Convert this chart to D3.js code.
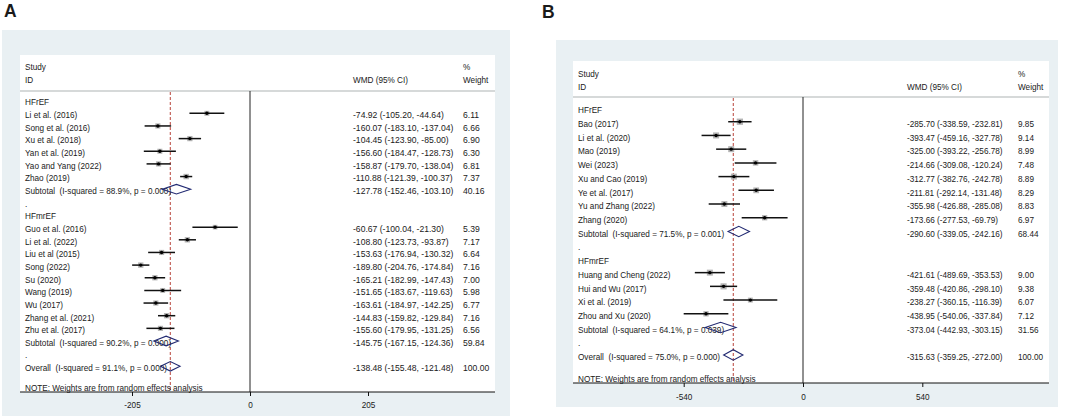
<!DOCTYPE html>
<html>
<head>
<meta charset="utf-8">
<script src="https://cdn.jsdelivr.net/npm/d3@7"></script>
<style>
  body { margin: 0; background: #fff; }
  svg { display: block; font-family: "Liberation Sans", Arial, Helvetica, sans-serif; }
  text { white-space: pre; fill: #1a1a1a; }
</style>
</head>
<body>
<div id="chart"></div>
<script>
// ---- panel A data (WMD, random effects) ----
const A_LABELS = ["HFrEF", "Li et al. (2016)", "Song et al. (2016)", "Xu et al. (2018)", "Yan et al. (2019)",
  "Yao and Yang (2022)", "Zhao (2019)", "Subtotal  (I-squared = 88.9%, p = 0.000)", ".",
  "HFmrEF", "Guo et al. (2016)", "Li et al. (2022)", "Liu et al (2015)", "Song (2022)", "Su (2020)",
  "Wang (2019)", "Wu (2017)", "Zhang et al. (2021)", "Zhu et al. (2017)",
  "Subtotal  (I-squared = 90.2%, p = 0.000)", ".", "Overall  (I-squared = 91.1%, p = 0.000)"];
const A_KIND = ["head", "study", "study", "study", "study", "study", "study", "sub", "blank",
  "head", "study", "study", "study", "study", "study", "study", "study", "study", "study", "sub", "blank", "sub"];
const A_EST = [null, -74.92, -160.07, -104.45, -156.60, -158.87, -110.88, -127.78, null,
  null, -60.67, -108.80, -153.63, -189.80, -165.21, -151.65, -163.61, -144.83, -155.60, -145.75, null, -138.48];
const A_LO = [null, -105.20, -183.10, -123.90, -184.47, -179.70, -121.39, -152.46, null,
  null, -100.04, -123.73, -176.94, -204.76, -182.99, -183.67, -184.97, -159.82, -179.95, -167.15, null, -155.48];
const A_HI = [null, -44.64, -137.04, -85.00, -128.73, -138.04, -100.37, -103.10, null,
  null, -21.30, -93.87, -130.32, -174.84, -147.43, -119.63, -142.25, -129.84, -131.25, -124.36, null, -121.48];
const A_WT = [null, 6.11, 6.66, 6.90, 6.30, 6.81, 7.37, 40.16, null,
  null, 5.39, 7.17, 6.64, 7.16, 7.00, 5.98, 6.77, 7.16, 6.56, 59.84, null, 100.00];
const A_TICKS = [-205, 0, 205];

// ---- panel B data ----
const B_LABELS = ["HFrEF", "Bao (2017)", "Li et al. (2020)", "Mao (2019)", "Wei (2023)", "Xu and Cao (2019)",
  "Ye et al. (2017)", "Yu and Zhang (2022)", "Zhang (2020)", "Subtotal  (I-squared = 71.5%, p = 0.001)", ".",
  "HFmrEF", "Huang and Cheng (2022)", "Hui and Wu (2017)", "Xi et al. (2019)", "Zhou and Xu (2020)",
  "Subtotal  (I-squared = 64.1%, p = 0.039)", ".", "Overall  (I-squared = 75.0%, p = 0.000)"];
const B_KIND = ["head", "study", "study", "study", "study", "study", "study", "study", "study", "sub", "blank",
  "head", "study", "study", "study", "study", "sub", "blank", "sub"];
const B_EST = [null, -285.70, -393.47, -325.00, -214.66, -312.77, -211.81, -355.98, -173.66, -290.60, null,
  null, -421.61, -359.48, -238.27, -438.95, -373.04, null, -315.63];
const B_LO = [null, -338.59, -459.16, -393.22, -309.08, -382.76, -292.14, -426.88, -277.53, -339.05, null,
  null, -489.69, -420.86, -360.15, -540.06, -442.93, null, -359.25];
const B_HI = [null, -232.81, -327.78, -256.78, -120.24, -242.78, -131.48, -285.08, -69.79, -242.16, null,
  null, -353.53, -298.10, -116.39, -337.84, -303.15, null, -272.00];
const B_WT = [null, 9.85, 9.14, 8.99, 7.48, 8.89, 8.29, 8.83, 6.97, 68.44, null,
  null, 9.00, 9.38, 6.07, 7.12, 31.56, null, 100.00];
const B_TICKS = [-540, 0, 540];

const NOTE = "NOTE: Weights are from random effects analysis";

const W = 1065, H = 418;
const svg = d3.select("#chart").append("svg").attr("width", W).attr("height", H);

const fmt = (v) => v.toFixed(2);

function drawPanel(p) {
  const g = svg.append("g");

  // outer light background and white plot region
  g.append("rect").attr("x", p.bg[0]).attr("y", p.bg[1])
    .attr("width", p.bg[2] - p.bg[0]).attr("height", p.bg[3] - p.bg[1]).attr("fill", "#e9f0f3");
  g.append("rect").attr("x", p.pl[0]).attr("y", p.pl[1])
    .attr("width", p.pl[2] - p.pl[0]).attr("height", p.pl[3] - p.pl[1]).attr("fill", "#fff");

  // panel letter
  svg.append("text").attr("x", p.letterX).attr("y", p.letterY)
    .attr("font-size", 17.5).attr("font-weight", "bold").text(p.letter);

  const x = d3.scaleLinear().domain([p.ticks[0], p.ticks[2]])
              .range([p.zero - p.span, p.zero + p.span]);
  const yRow = (i) => p.y0 + p.step * i;

  // header
  g.append("text").attr("x", p.labX).attr("y", p.hy1).attr("font-size", p.fs).text("Study");
  g.append("text").attr("x", p.labX).attr("y", p.hy2).attr("font-size", p.fs).text("ID");
  g.append("text").attr("x", p.wmdX).attr("y", p.hy2).attr("font-size", p.fs).text("WMD (95% CI)");
  g.append("text").attr("x", p.wtX).attr("y", p.hy1).attr("font-size", p.fs).text("%");
  g.append("text").attr("x", p.wtX).attr("y", p.hy2).attr("font-size", p.fs).text("Weight");
  g.append("line").attr("x1", p.pl[0]).attr("x2", p.pl[2]).attr("y1", p.hl).attr("y2", p.hl)
    .attr("stroke", "#c9cccd").attr("stroke-width", 1.5);

  // zero line
  g.append("line").attr("x1", x(0)).attr("x2", x(0)).attr("y1", p.hl).attr("y2", p.pl[3])
    .attr("stroke", "#222").attr("stroke-width", 1);

  // overall effect dashed line
  const overall = p.est[p.est.length - 1];
  g.append("line").attr("x1", x(overall)).attr("x2", x(overall)).attr("y1", p.hl + 1).attr("y2", p.pl[3])
    .attr("stroke", "#b8433a").attr("stroke-width", 1).attr("stroke-dasharray", "3,2");

  const rows = p.labels.map((lab, i) => ({
    lab: lab, kind: p.kind[i], est: p.est[i], lo: p.lo[i], hi: p.hi[i], wt: p.wt[i], i: i
  }));

  // row labels
  g.selectAll(".lab").data(rows).enter().append("text")
    .attr("class", "lab")
    .attr("x", p.labX)
    .attr("y", (d) => yRow(d.i) + p.tOff)
    .attr("font-size", p.fs)
    .text((d) => d.lab);

  const valued = rows.filter((d) => d.est !== null);

  // estimate text + weight
  g.selectAll(".wmd").data(valued).enter().append("text")
    .attr("class", "wmd")
    .attr("x", p.wmdX)
    .attr("y", (d) => yRow(d.i) + p.tOff)
    .attr("font-size", p.fsNum)
    .text((d) => fmt(d.est) + " (" + fmt(d.lo) + ", " + fmt(d.hi) + ")");
  g.selectAll(".wt").data(valued).enter().append("text")
    .attr("class", "wt")
    .attr("x", p.wtX)
    .attr("y", (d) => yRow(d.i) + p.tOff)
    .attr("font-size", p.fsNum)
    .text((d) => fmt(d.wt));

  const studies = rows.filter((d) => d.kind === "study");

  // weight boxes
  g.selectAll(".box").data(studies).enter().append("rect")
    .attr("class", "box")
    .attr("x", (d) => x(d.est) - p.boxK * Math.sqrt(d.wt) / 2)
    .attr("y", (d) => yRow(d.i) - p.boxK * Math.sqrt(d.wt) / 2)
    .attr("width", (d) => p.boxK * Math.sqrt(d.wt))
    .attr("height", (d) => p.boxK * Math.sqrt(d.wt))
    .attr("fill", "#b4b4b4");

  // CI lines
  g.selectAll(".ci").data(studies).enter().append("line")
    .attr("class", "ci")
    .attr("x1", (d) => x(d.lo)).attr("x2", (d) => x(d.hi))
    .attr("y1", (d) => yRow(d.i)).attr("y2", (d) => yRow(d.i))
    .attr("stroke", "#111").attr("stroke-width", 1.5);

  // point estimates
  g.selectAll(".pt").data(studies).enter().append("circle")
    .attr("class", "pt")
    .attr("cx", (d) => x(d.est)).attr("cy", (d) => yRow(d.i))
    .attr("r", 1.7).attr("fill", "#000");

  // pooled diamonds
  const pooled = rows.filter((d) => d.kind === "sub");
  g.selectAll(".dia").data(pooled).enter().append("path")
    .attr("class", "dia")
    .attr("d", (d) => {
      const yc = yRow(d.i), h = p.step * 0.38;
      return "M" + x(d.lo) + "," + yc + "L" + x(d.est) + "," + (yc - h) +
             "L" + x(d.hi) + "," + yc + "L" + x(d.est) + "," + (yc + h) + "Z";
    })
    .attr("fill", "none").attr("stroke", "#222a72").attr("stroke-width", 1.1);

  // note just above the axis
  g.append("text").attr("x", p.labX).attr("y", p.pl[3] - 1).attr("font-size", p.fs).text(NOTE);

  // x axis
  const axisG = g.append("g")
    .attr("transform", "translate(0," + p.pl[3] + ")")
    .call(d3.axisBottom(x).tickValues(p.ticks).tickSize(4).tickFormat((d) => String(d)));
  axisG.select(".domain").remove();
  axisG.selectAll("line").attr("stroke", "#111");
  axisG.selectAll("text").attr("font-size", p.fs).attr("font-family", null)
    .attr("dy", null).attr("y", p.tickY);
  g.append("line").attr("x1", p.pl[0]).attr("x2", p.pl[2]).attr("y1", p.pl[3]).attr("y2", p.pl[3])
    .attr("stroke", "#111").attr("stroke-width", 1);
}

drawPanel({
  letter: "A", letterX: 4, letterY: 17,
  bg: [2, 30, 510, 416], pl: [20, 55, 495, 392], hl: 91,
  ticks: A_TICKS, zero: 250, span: 118,
  y0: 100.65, step: 12.65, tOff: 4.8,
  hy1: 69.5, hy2: 82.5, tickY: 16,
  labX: 25, wmdX: 353, wtX: 463, fs: 8.2, fsNum: 8.6, boxK: 2.0,
  labels: A_LABELS, kind: A_KIND, est: A_EST, lo: A_LO, hi: A_HI, wt: A_WT
});

drawPanel({
  letter: "B", letterX: 542, letterY: 18,
  bg: [556, 40, 1058, 407], pl: [573, 61, 1049, 383], hl: 97,
  ticks: B_TICKS, zero: 803, span: 119.3,
  y0: 108, step: 13.72, tOff: 5.2,
  hy1: 77, hy2: 89.5, tickY: 17,
  labX: 578, wmdX: 907, wtX: 1018, fs: 8.2, fsNum: 8.2, boxK: 2.0,
  labels: B_LABELS, kind: B_KIND, est: B_EST, lo: B_LO, hi: B_HI, wt: B_WT
});
</script>
</body>
</html>
